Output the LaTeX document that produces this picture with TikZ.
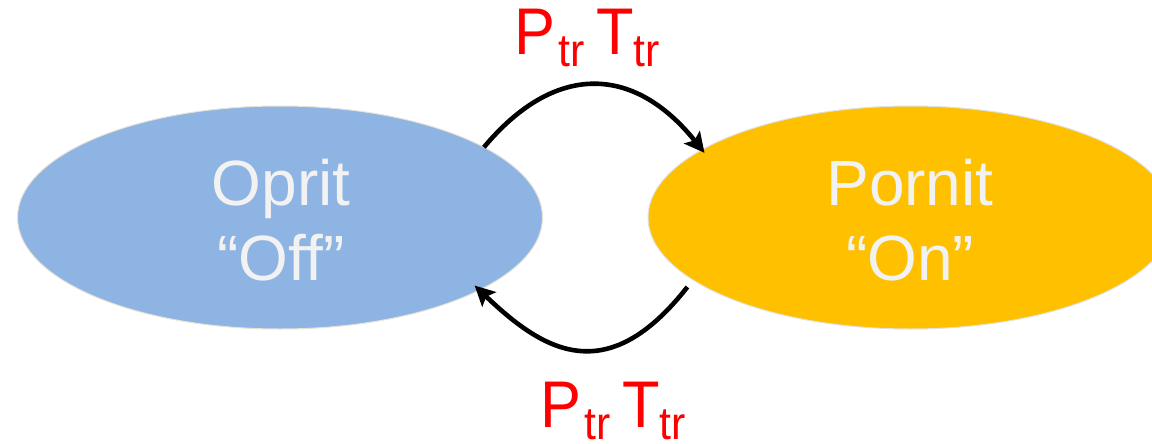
\documentclass[tikz,border=0pt]{standalone}
\usepackage{fontspec}
\usepackage{graphicx}
\setmainfont{Liberation Sans}
\usetikzlibrary{shapes.geometric,arrows.meta}
\definecolor{offblue}{HTML}{8EB4E3}
\definecolor{onyellow}{HTML}{FFC000}
\definecolor{statetext}{HTML}{F2F2F2}
\definecolor{rimoff}{HTML}{E6E2D6}
\definecolor{rimon}{HTML}{E2E2E2}
\tikzset{
  state/.style={ellipse, minimum width=525pt, minimum height=223pt, inner sep=0pt, outer sep=0pt, line width=1pt},
  statelabel/.style={text=statetext, font=\fontsize{64}{64}\selectfont, anchor=base, inner sep=0pt},
  trans/.style={line width=4.6pt, -{Stealth[length=20pt,width=20pt,inset=4pt]}},
  ratelabel/.style={text=red, anchor=base west, inner sep=0pt, font=\fontsize{66}{66}\selectfont}
}
\newcommand{\sbtr}{\raisebox{-12pt}{\fontsize{46}{46}\selectfont tr}}
\newcommand{\ptrate}{\scalebox{0.93}[1]{P\hspace{3pt}\sbtr\hspace{13pt}T\sbtr}}
\begin{document}
\begin{tikzpicture}[x=1pt,y=-1pt]
\useasboundingbox (0,0) rectangle (1152,444);
\clip (0,0) rectangle (1152,444);
\fill[white] (0,0) rectangle (1152,444);
\node[state, fill=offblue, draw=rimoff] (L) at (280,217.5) {};
\node[state, fill=onyellow, draw=rimon] (R) at (910.5,217.5) {};
\node[statelabel] (Lt1) at (281,205) {Oprit};
\node[statelabel] (Lt2) at (281,280) {“Off”};
\node[statelabel] (Rt1) at (910,205) {Pornit};
\node[statelabel] (Rt2) at (910,280) {“On”};
\draw[trans, shorten >=-4pt] (L.19.6) .. controls +(70,-84) and +(-69,-86) .. (R.162.8);
\draw[trans, shorten <=9pt, shorten >=-6.5pt] (R.196.3) .. controls +(-87,111) and +(63,60) .. (L.340.3);
\node[ratelabel] (toplbl) at (514.3,55) {\ptrate};
\node[ratelabel] (botlbl) at (540.3,427) {\ptrate};
\end{tikzpicture}
\end{document}
